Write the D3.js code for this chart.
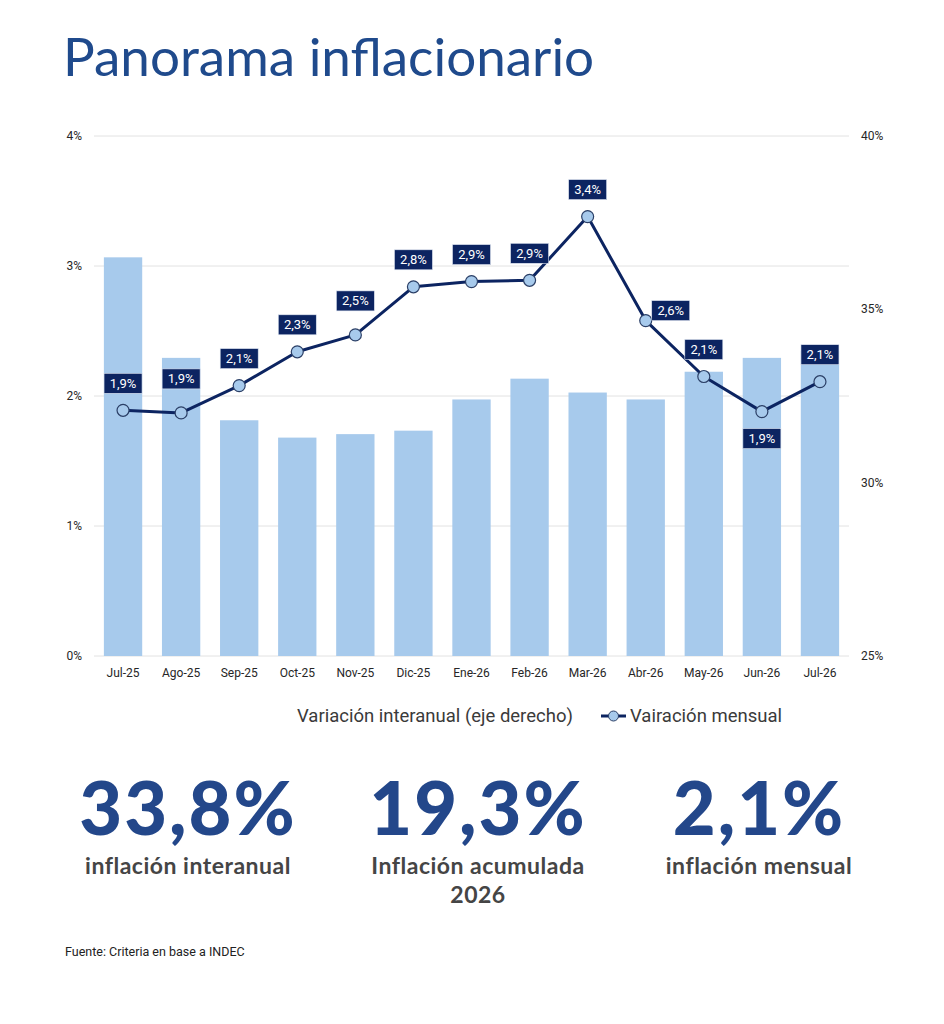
<!DOCTYPE html>
<html lang="es">
<head>
<meta charset="utf-8">
<title>Panorama inflacionario</title>
<script src="https://cdn.jsdelivr.net/npm/d3@7"></script>
<style>
  html, body { margin: 0; padding: 0; background: #ffffff; }
  svg { display: block; }
</style>
</head>
<body>
<div id="chart"></div>
<script>
// Data
const months = ['Jul-25', 'Ago-25', 'Sep-25', 'Oct-25', 'Nov-25', 'Dic-25', 'Ene-26',
                'Feb-26', 'Mar-26', 'Abr-26', 'May-26', 'Jun-26', 'Jul-26'];
// monthly inflation, % (left axis)
const monthly = [1.89, 1.87, 2.08, 2.34, 2.47, 2.84, 2.88, 2.89, 3.38, 2.58, 2.15, 1.88, 2.11];
// year-on-year inflation, % (right axis)
const interannual = [36.5, 33.6, 31.8, 31.3, 31.4, 31.5, 32.4, 33.0, 32.6, 32.4, 33.2, 33.6, 33.8];
const leftTicks = [0, 1, 2, 3, 4];
const rightTicks = [25, 30, 35, 40];
const kpis = [
  { value: '33,8%', label: ['inflación interanual'] },
  { value: '19,3%', label: ['Inflación acumulada', '2026'] },
  { value: '2,1%', label: ['inflación mensual'] }
];

document.addEventListener('DOMContentLoaded', () => {
  const W = 944, H = 1024;
  const COLORS = {
    title: '#1f4a8c',
    bar: '#a7caec',
    line: '#0c2461',
    labelBox: '#0c2461',
    grid: '#e2e2e2',
    axisText: '#262626',
    kpi: '#23478a',
    kpiLabel: '#454545'
  };
  const NARROW = "'Liberation Sans Narrow', 'Roboto', sans-serif";

  const svg = d3.select('#chart').append('svg')
    .attr('width', W)
    .attr('height', H);

  // Title
  svg.append('text')
    .attr('x', 63)
    .attr('y', 76)
    .attr('fill', COLORS.title)
    .style('font-family', 'Lato, sans-serif')
    .style('font-size', '53px')
    .style('font-weight', 400)
    .text('Panorama inflacionario');

  // Scales
  const plot = { left: 94, right: 849, top: 136, bottom: 656 };
  const x = d3.scaleBand()
    .domain(months)
    .range([plot.left, plot.right])
    .paddingInner(0.34)
    .paddingOuter(0.17);
  const yLeft = d3.scaleLinear().domain([0, 4]).range([plot.bottom, plot.top]);
  const yRight = d3.scaleLinear().domain([25, 40]).range([plot.bottom, plot.top]);
  const cx = m => x(m) + x.bandwidth() / 2;

  // Gridlines (left axis)
  svg.append('g')
    .selectAll('line')
    .data(leftTicks)
    .join('line')
    .attr('x1', plot.left)
    .attr('x2', plot.right)
    .attr('y1', d => yLeft(d))
    .attr('y2', d => yLeft(d))
    .attr('stroke', COLORS.grid)
    .attr('stroke-width', 1);

  // Left axis labels
  svg.append('g')
    .selectAll('text')
    .data(leftTicks)
    .join('text')
    .attr('x', 82)
    .attr('y', d => yLeft(d) + 4)
    .attr('text-anchor', 'end')
    .attr('fill', COLORS.axisText)
    .style('font-family', NARROW)
    .style('font-size', '12px')
    .text(d => d + '%');

  // Right axis labels
  svg.append('g')
    .selectAll('text')
    .data(rightTicks)
    .join('text')
    .attr('x', 861)
    .attr('y', d => yRight(d) + 4)
    .attr('fill', COLORS.axisText)
    .style('font-family', NARROW)
    .style('font-size', '12px')
    .text(d => d + '%');

  // Bars: interannual
  svg.append('g')
    .selectAll('rect')
    .data(interannual)
    .join('rect')
    .attr('x', (d, i) => x(months[i]))
    .attr('y', d => yRight(d))
    .attr('width', x.bandwidth())
    .attr('height', d => plot.bottom - yRight(d))
    .attr('fill', COLORS.bar);

  // X axis labels
  svg.append('g')
    .selectAll('text')
    .data(months)
    .join('text')
    .attr('x', d => cx(d))
    .attr('y', 677)
    .attr('text-anchor', 'middle')
    .attr('fill', COLORS.axisText)
    .style('font-family', NARROW)
    .style('font-size', '12px')
    .text(d => d);

  // Line: monthly
  const line = d3.line()
    .x((d, i) => cx(months[i]))
    .y(d => yLeft(d));

  svg.append('path')
    .datum(monthly)
    .attr('d', line)
    .attr('fill', 'none')
    .attr('stroke', COLORS.line)
    .attr('stroke-width', 3)
    .attr('stroke-linejoin', 'round');

  svg.append('g')
    .selectAll('circle')
    .data(monthly)
    .join('circle')
    .attr('cx', (d, i) => cx(months[i]))
    .attr('cy', d => yLeft(d))
    .attr('r', 6)
    .attr('fill', COLORS.bar)
    .attr('stroke', '#2b3f66')
    .attr('stroke-width', 1.2);

  // Data labels (boxes). Most above the point, Abr-26 to the right, Jun-26 below.
  const fmt = v => d3.format('.1f')(v).replace('.', ',') + '%';
  const labelOffset = (i) => {
    if (months[i] === 'Abr-26') return [25, -10];
    if (months[i] === 'Jun-26') return [0, 27];
    if (months[i] === 'Ago-25' || months[i] === 'Nov-25') return [0, -34];
    return [0, -27];
  };
  const labels = svg.append('g')
    .selectAll('g')
    .data(monthly)
    .join('g')
    .attr('transform', (d, i) => {
      const [dx, dy] = labelOffset(i);
      return `translate(${cx(months[i]) + dx},${yLeft(d) + dy})`;
    });

  labels.append('rect')
    .attr('x', -19)
    .attr('y', -10)
    .attr('width', 38)
    .attr('height', 20)
    .attr('fill', COLORS.labelBox)
    .attr('stroke', '#dfe6f2')
    .attr('stroke-width', 0.6);

  labels.append('text')
    .attr('text-anchor', 'middle')
    .attr('y', 4.5)
    .attr('fill', '#ffffff')
    .style('font-family', 'Roboto, sans-serif')
    .style('font-size', '13px')
    .text(d => fmt(d));

  // Legend
  const legend = svg.append('g')
    .style('font-family', NARROW)
    .style('font-size', '18.5px')
    .attr('fill', '#3a3a3a');

  legend.append('text')
    .attr('x', 297)
    .attr('y', 722)
    .text('Variación interanual (eje derecho)');

  legend.append('line')
    .attr('x1', 601)
    .attr('x2', 626)
    .attr('y1', 716)
    .attr('y2', 716)
    .attr('stroke', COLORS.line)
    .attr('stroke-width', 3);

  legend.append('circle')
    .attr('cx', 613.5)
    .attr('cy', 716)
    .attr('r', 5)
    .attr('fill', COLORS.bar)
    .attr('stroke', '#2b3f66')
    .attr('stroke-width', 1);

  legend.append('text')
    .attr('x', 630)
    .attr('y', 722)
    .text('Vairación mensual');

  // KPI figures
  const kpiX = [188, 478, 759];
  const kpiG = svg.append('g')
    .selectAll('g')
    .data(kpis)
    .join('g')
    .attr('transform', (d, i) => `translate(${kpiX[i]},0)`);

  kpiG.append('text')
    .attr('y', 835)
    .attr('text-anchor', 'middle')
    .attr('fill', COLORS.kpi)
    .style('font-family', 'Lato, sans-serif')
    .style('font-size', '74px')
    .style('font-weight', 900)
    .style('letter-spacing', '2px')
    .text(d => d.value);

  kpiG.selectAll('text.lbl')
    .data(d => d.label)
    .join('text')
    .attr('class', 'lbl')
    .attr('y', (d, j) => 874 + j * 29)
    .attr('text-anchor', 'middle')
    .attr('fill', COLORS.kpiLabel)
    .style('font-family', 'Lato, sans-serif')
    .style('font-size', '23px')
    .style('font-weight', 700)
    .style('letter-spacing', '0.5px')
    .text(d => d);

  // Source note
  svg.append('text')
    .attr('x', 65)
    .attr('y', 956)
    .attr('fill', '#222222')
    .style('font-family', NARROW)
    .style('font-size', '12.5px')
    .text('Fuente: Criteria en base a INDEC');
});
</script>
</body>
</html>
